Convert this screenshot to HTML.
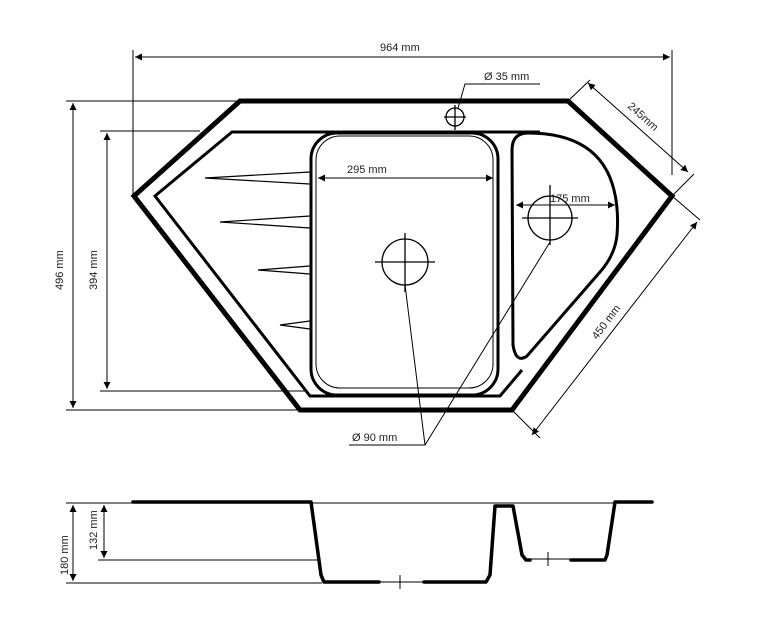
<!DOCTYPE html>
<html><head><meta charset="utf-8"><style>
html,body{margin:0;padding:0;background:#fff;}
svg{display:block}
text{font-family:"Liberation Sans",sans-serif;font-size:11px;fill:#222}
</style></head><body>
<svg width="759" height="629" viewBox="0 0 759 629" xmlns="http://www.w3.org/2000/svg">
<defs>
<marker id="a" viewBox="0 0 10 10" refX="10" refY="5" markerWidth="11" markerHeight="7" orient="auto-start-reverse" markerUnits="userSpaceOnUse"><path d="M0,0 L10,5 L0,10 z" fill="#000"/></marker>
</defs>
<g fill="none" stroke="#000">
<polygon points="240,101 568,101 672,196 512,410 300,410 134,196" stroke-width="5" stroke-linejoin="miter"/>
<polyline points="540,132 232,132 155,196 310,396 500,396 522,370" stroke-width="3"/>
<rect x="311" y="133" width="187" height="262" rx="26" stroke-width="3"/>
<rect x="316" y="136" width="177" height="252" rx="24" stroke-width="1"/>
<path d="M528,133 Q600,133 614,190 Q619,210 617,235 Q615,255 600,272 L527,356 Q516,364 513,345 L512,150 Q512,133 528,133 Z" stroke-width="3"/>
<g stroke-width="1.2">
<path d="M310,172 L205,178 L310,184"/>
<path d="M310,216 L220,222 L310,228"/>
<path d="M310,266 L258,270 L310,274"/>
<path d="M310,321 L280,325 L310,329"/>
</g>
<g stroke-width="1.3">
<circle cx="405" cy="262" r="23"/>
<line x1="375" y1="262" x2="435" y2="262"/><line x1="405" y1="233" x2="405" y2="292"/>
<circle cx="550" cy="218" r="22"/>
<line x1="522" y1="218" x2="578" y2="218"/><line x1="550" y1="185" x2="550" y2="245"/>
<circle cx="455" cy="117" r="9"/>
<line x1="444" y1="117" x2="466" y2="117"/><line x1="455" y1="105" x2="455" y2="130"/>
</g>
<g stroke-width="1">
<line x1="133" y1="50" x2="133" y2="194"/><line x1="672" y1="50" x2="672" y2="175"/>
<line x1="135" y1="57" x2="670" y2="57" marker-start="url(#a)" marker-end="url(#a)"/>
<line x1="66" y1="101" x2="240" y2="101"/><line x1="66" y1="410" x2="300" y2="410"/>
<line x1="73" y1="103" x2="73" y2="408" marker-start="url(#a)" marker-end="url(#a)"/>
<line x1="100" y1="131" x2="200" y2="131"/><line x1="100" y1="391" x2="305" y2="391"/>
<line x1="107" y1="133" x2="107" y2="389" marker-start="url(#a)" marker-end="url(#a)"/>
<line x1="568" y1="101" x2="590" y2="80"/><line x1="672" y1="196" x2="694" y2="174"/>
<line x1="588" y1="83" x2="688" y2="172" marker-start="url(#a)" marker-end="url(#a)"/>
<line x1="672" y1="196" x2="700" y2="220"/><line x1="512" y1="410" x2="540" y2="438"/>
<line x1="697" y1="222" x2="532" y2="435" marker-start="url(#a)" marker-end="url(#a)"/>
<line x1="318" y1="178" x2="493" y2="178" marker-start="url(#a)" marker-end="url(#a)"/>
<line x1="516" y1="205" x2="615" y2="205" marker-start="url(#a)" marker-end="url(#a)"/>
<polyline points="540,84 465,84 458,108"/>
<polyline points="349,445 425,445 405,285"/>
<line x1="425" y1="445" x2="550" y2="242"/>
</g>
<g stroke-width="3.5" stroke-linecap="round" stroke-linejoin="round">
<polyline points="133,502 311,502 321,575 324,582 379,582"/>
<polyline points="424,582 486,582 490,575 495,506 513,506 522,555 526,560 530,560"/>
<polyline points="571,560 605,560 607,555 615,502 652,502"/>
</g>
<g stroke-width="1">
<line x1="311" y1="503" x2="615" y2="503"/>
<line x1="66" y1="503" x2="133" y2="503"/><line x1="66" y1="583" x2="322" y2="583"/>
<line x1="98" y1="560" x2="320" y2="560"/><line x1="530" y1="559" x2="571" y2="559"/>
<line x1="73" y1="505" x2="73" y2="581" marker-start="url(#a)" marker-end="url(#a)"/>
<line x1="104" y1="505" x2="104" y2="558" marker-start="url(#a)" marker-end="url(#a)"/>
<line x1="379" y1="582" x2="424" y2="582"/><line x1="400" y1="575" x2="400" y2="589"/>
<line x1="548" y1="552" x2="548" y2="566"/>
</g>
</g>
<text x="380" y="51">964 mm</text>
<text x="484" y="80">Ø 35 mm</text>
<text x="347" y="173">295 mm</text>
<text x="550" y="202">175 mm</text>
<text x="352" y="441">Ø 90 mm</text>
<text transform="translate(63,290) rotate(-90)">496 mm</text>
<text transform="translate(97,290) rotate(-90)">394 mm</text>
<text transform="translate(627,107) rotate(42)">245mm</text>
<text transform="translate(597,340) rotate(-53)">450 mm</text>
<text transform="translate(68,575) rotate(-90)">180 mm</text>
<text transform="translate(97,550) rotate(-90)">132 mm</text>
</svg>
</body></html>
